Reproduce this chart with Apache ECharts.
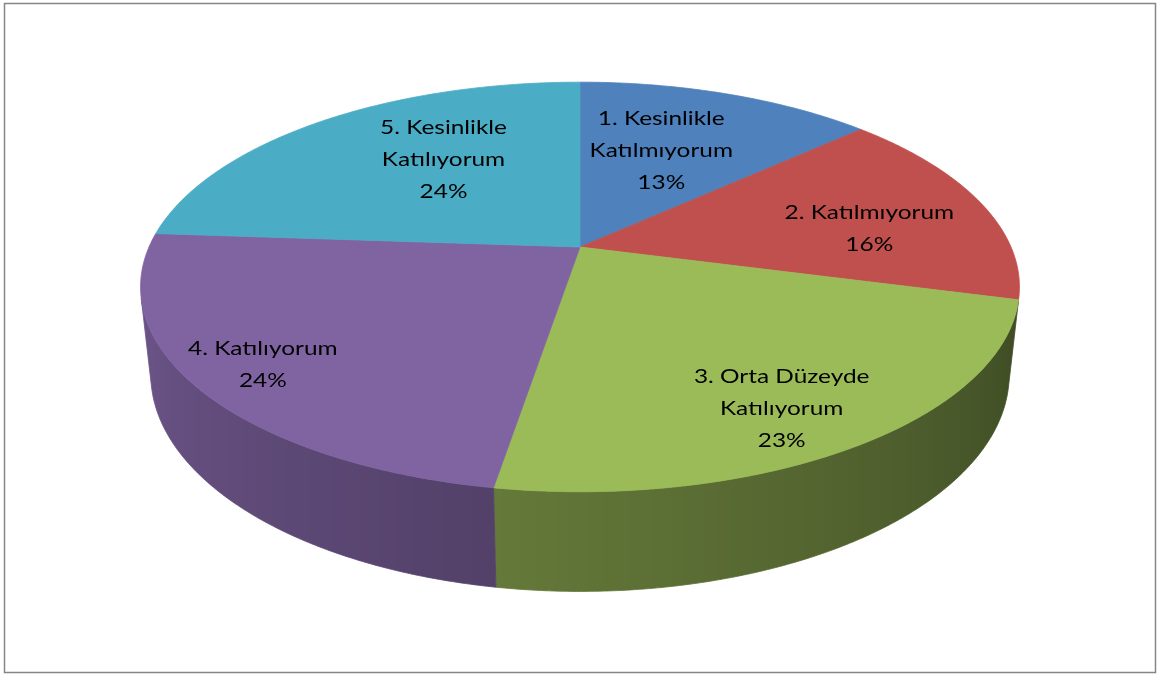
<!DOCTYPE html>
<html>
<head>
<meta charset="utf-8">
<script src="https://cdn.jsdelivr.net/npm/echarts@6/dist/echarts.min.js"></script>
<style>
  html, body { margin: 0; padding: 0; background: #fff; }
  #chart { width: 1157px; height: 675px; }
</style>
</head>
<body>
<div id="chart"></div>
<script>
/* ================================
   DATA
================================ */
const categories = [
  "1. Kesinlikle\nKatılmıyorum",
  "2. Katılmıyorum",
  "3. Orta Düzeyde\nKatılıyorum",
  "4. Katılıyorum",
  "5. Kesinlikle\nKatılıyorum"
];
const values = [13.2, 15.9, 23.49, 23.51, 23.9];
const colors = ["#4F81BD", "#C0504D", "#9BBB59", "#8064A2", "#4BACC6"];

/* ================================
   3D VIEW (layout only)
================================ */
const VIEW = { cx: 580, cy: 247, f: 431, dist: 4.56, tilt: 27.2 * Math.PI / 180, depth: 0.23 };
const LABEL_R = [0.58, 0.69, 0.815, 0.848, 0.595];
const LABEL_SHIFT = [-2.7, 6.0, 3.3, -0.6, 7.4];

const total = values.reduce((a, b) => a + b, 0);
const starts = [];
let acc = 0;
values.forEach(v => { starts.push(acc / total * 360); acc += v; });

const ca = Math.cos(VIEW.tilt), sa = Math.sin(VIEW.tilt);

function proj(x, y, z) {
  const yc = y * ca - z * sa;
  const zc = y * sa + z * ca;
  const s = VIEW.dist / (VIEW.dist - zc);
  return [VIEW.cx + VIEW.f * x * s, VIEW.cy - VIEW.f * yc * s];
}

// point on the disc, angle clockwise from the back
function disc(deg, r, y) {
  const t = deg * Math.PI / 180;
  return proj(r * Math.sin(t), y, -r * Math.cos(t));
}

// is the outer wall at this angle facing the camera
function facing(deg) {
  const t = deg * Math.PI / 180;
  const x = Math.sin(t), z = -Math.cos(t), y = -VIEW.depth / 2;
  const xc = x, yc = y * ca - z * sa, zc = y * sa + z * ca;
  const nyc = -z * sa, nzc = z * ca;
  return x * (-xc) + nyc * (-yc) + nzc * (VIEW.dist - zc) > 0;
}

function shade(hex, k) {
  const n = parseInt(hex.slice(1), 16);
  const r = Math.round(((n >> 16) & 255) * k);
  const g = Math.round(((n >> 8) & 255) * k);
  const b = Math.round((n & 255) * k);
  return `rgb(${r},${g},${b})`;
}

function wallLight(deg) {
  return Math.max(0.3, Math.min(0.92, 0.38 + (deg - 100) * 0.003));
}

/* ================================
   RENDER ONE SLICE
================================ */
function renderItem(params, api) {
  const i = params.dataIndex;
  const a0 = starts[i];
  const a1 = a0 + api.value(0) / total * 360;
  const n = Math.ceil((a1 - a0) / 0.5);
  const angles = [];
  for (let k = 0; k <= n; k++) angles.push(a0 + (a1 - a0) * k / n);

  const children = [];

  // outer wall, front-facing parts only
  const runs = [];
  let run = [];
  angles.forEach(a => {
    if (facing(a)) run.push(a);
    else if (run.length) { runs.push(run); run = []; }
  });
  if (run.length) runs.push(run);

  runs.forEach(r => {
    if (r.length < 2) return;
    const top = r.map(a => disc(a, 1, 0));
    const bottom = r.map(a => disc(a, 1, -VIEW.depth)).reverse();
    const xs = top.map(p => p[0]);
    const xmin = Math.min(...xs), xmax = Math.max(...xs);
    let fill = shade(colors[i], wallLight(r[Math.floor(r.length / 2)]));
    if (xmax - xmin > 1) {
      const stops = r.map((a, k) => ({
        offset: (xs[k] - xmin) / (xmax - xmin),
        color: shade(colors[i], wallLight(a))
      })).sort((p, q) => p.offset - q.offset);
      fill = new echarts.graphic.LinearGradient(xmin, 0, xmax, 0, stops, true);
    }
    children.push({
      type: "polygon",
      z2: 1,
      shape: { points: top.concat(bottom) },
      style: { fill: fill, stroke: fill, lineWidth: 0.8 }
    });
  });

  // top face
  const pts = [disc(0, 0, 0)].concat(angles.map(a => disc(a, 1, 0)));
  children.push({
    type: "polygon",
    z2: 2,
    shape: { points: pts },
    style: { fill: colors[i], stroke: colors[i], lineWidth: 0.8 }
  });

  // label (text is a bit wide in the source, so stretch it)
  const mid = (a0 + a1) / 2 + LABEL_SHIFT[i];
  const lp = disc(mid, LABEL_R[i], 0);
  const pct = Math.round(api.value(0) / total * 100) + "%";
  children.push({
    type: "text",
    z2: 3,
    x: lp[0],
    y: lp[1],
    scaleX: 1.22,
    style: {
      text: categories[i] + "\n" + pct,
      x: 0,
      y: 0,
      align: "center",
      verticalAlign: "middle",
      font: "20px Lato",
      lineHeight: 32,
      fill: "#000"
    }
  });

  return { type: "group", children: children };
}

/* ================================
   CHART
================================ */
const chart = echarts.init(document.getElementById("chart"));
chart.setOption({
  animation: false,
  graphic: [{
    type: "rect",
    silent: true,
    shape: { x: 4.5, y: 3.5, width: 1151, height: 669 },
    style: { fill: "transparent", stroke: "#868686", lineWidth: 1.5 }
  }],
  series: [{
    type: "custom",
    coordinateSystem: "none",
    silent: true,
    renderItem: renderItem,
    data: values.map(v => [v])
  }]
});
</script>
</body>
</html>
